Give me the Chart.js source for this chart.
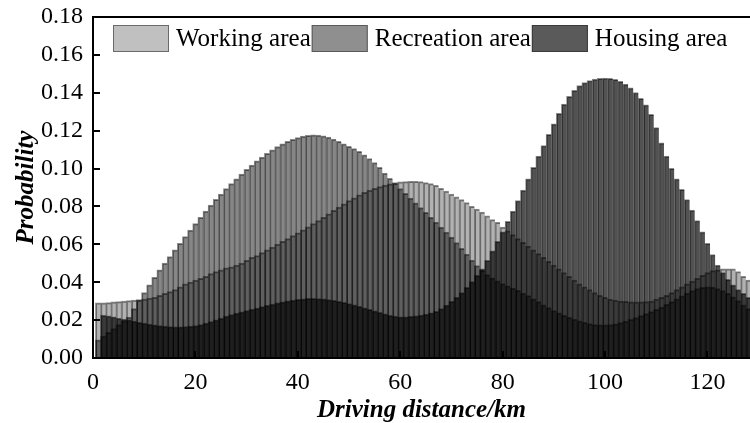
<!DOCTYPE html>
<html>
<head>
<meta charset="utf-8">
<script src="https://cdn.jsdelivr.net/npm/chart.js@4.4.1/dist/chart.umd.min.js"></script>
<style>
  html, body { margin: 0; padding: 0; background: #fff; }
  #c { display: block; }
</style>
</head>
<body>
<canvas id="c" width="750" height="423"></canvas>
<script>
// Bin centres (km), one bar per kilometre
const distanceKm = [
  1,2,3,4,5,6,7,8,9,10,11,12,13,14,15,16,17,18,19,20,
  21,22,23,24,25,26,27,28,29,30,31,32,33,34,35,36,37,38,39,40,
  41,42,43,44,45,46,47,48,49,50,51,52,53,54,55,56,57,58,59,60,
  61,62,63,64,65,66,67,68,69,70,71,72,73,74,75,76,77,78,79,80,
  81,82,83,84,85,86,87,88,89,90,91,92,93,94,95,96,97,98,99,100,
  101,102,103,104,105,106,107,108,109,110,111,112,113,114,115,116,117,118,119,120,
  121,122,123,124,125,126,127,128
];

const workingArea = [
  0.0290,0.0290,0.0292,0.0295,0.0297,0.0300,0.0302,0.0305,0.0308,0.0310,
  0.0315,0.0320,0.0330,0.0340,0.0350,0.0360,0.0375,0.0390,0.0400,0.0410,
  0.0420,0.0430,0.0445,0.0455,0.0465,0.0475,0.0480,0.0490,0.0500,0.0515,
  0.0530,0.0540,0.0555,0.0570,0.0585,0.0600,0.0615,0.0630,0.0645,0.0660,
  0.0676,0.0692,0.0708,0.0725,0.0742,0.0760,0.0778,0.0796,0.0813,0.0830,
  0.0845,0.0860,0.0873,0.0885,0.0895,0.0904,0.0912,0.0919,0.0925,0.0929,
  0.0931,0.0932,0.0932,0.0930,0.0925,0.0920,0.0910,0.0895,0.0880,0.0865,
  0.0850,0.0835,0.0820,0.0800,0.0785,0.0770,0.0750,0.0730,0.0715,0.0690,
  0.0670,0.0650,0.0630,0.0610,0.0590,0.0570,0.0550,0.0530,0.0510,0.0490,
  0.0470,0.0450,0.0430,0.0410,0.0390,0.0375,0.0360,0.0345,0.0330,0.0320,
  0.0310,0.0305,0.0300,0.0298,0.0296,0.0295,0.0295,0.0297,0.0300,0.0310,
  0.0320,0.0330,0.0345,0.0360,0.0375,0.0390,0.0405,0.0420,0.0435,0.0450,
  0.0460,0.0465,0.0470,0.0470,0.0470,0.0455,0.0430,0.0410
];

const recreationArea = [
  0.0095,0.0115,0.0135,0.0155,0.0175,0.0195,0.0215,0.0260,0.0305,0.0345,
  0.0385,0.0425,0.0465,0.0500,0.0535,0.0570,0.0605,0.0640,0.0674,0.0708,
  0.0741,0.0774,0.0806,0.0836,0.0865,0.0893,0.0920,0.0945,0.0970,0.0995,
  0.1018,0.1040,0.1060,0.1080,0.1098,0.1115,0.1130,0.1143,0.1154,0.1163,
  0.1170,0.1175,0.1177,0.1176,0.1172,0.1165,0.1155,0.1143,0.1129,0.1117,
  0.1105,0.1090,0.1072,0.1052,0.1030,0.1005,0.0975,0.0948,0.0921,0.0894,
  0.0868,0.0843,0.0818,0.0793,0.0768,0.0742,0.0716,0.0690,0.0664,0.0637,
  0.0608,0.0578,0.0547,0.0516,0.0487,0.0462,0.0440,0.0422,0.0406,0.0392,
  0.0380,0.0368,0.0356,0.0342,0.0328,0.0312,0.0297,0.0280,0.0265,0.0250,
  0.0237,0.0225,0.0214,0.0204,0.0195,0.0187,0.0181,0.0176,0.0174,0.0174,
  0.0176,0.0180,0.0186,0.0194,0.0203,0.0213,0.0223,0.0233,0.0244,0.0256,
  0.0268,0.0282,0.0297,0.0312,0.0327,0.0342,0.0355,0.0365,0.0372,0.0375,
  0.0373,0.0366,0.0355,0.0340,0.0322,0.0302,0.0280,0.0260
];

const housingArea = [
  null,  0.0226,0.0222,0.0216,0.0210,0.0205,0.0200,0.0194,0.0188,0.0183,
  0.0178,0.0174,0.0170,0.0167,0.0165,0.0164,0.0164,0.0165,0.0167,0.0170,
  0.0176,0.0183,0.0191,0.0200,0.0210,0.0220,0.0228,0.0236,0.0243,0.0250,
  0.0256,0.0263,0.0270,0.0277,0.0284,0.0290,0.0296,0.0301,0.0305,0.0309,
  0.0312,0.0314,0.0314,0.0313,0.0311,0.0308,0.0303,0.0298,0.0293,0.0287,
  0.0280,0.0272,0.0264,0.0256,0.0248,0.0240,0.0232,0.0225,0.0220,0.0217,
  0.0217,0.0219,0.0222,0.0226,0.0231,0.0237,0.0246,0.0260,0.0278,0.0298,
  0.0320,0.0345,0.0372,0.0402,0.0435,0.0470,0.0515,0.0565,0.0615,0.0665,
  0.0720,0.0775,0.0830,0.0885,0.0945,0.1005,0.1065,0.1120,0.1180,0.1235,
  0.1290,0.1340,0.1380,0.1412,0.1437,0.1453,0.1464,0.1471,0.1475,0.1477,
  0.1476,0.1470,0.1460,0.1445,0.1425,0.1400,0.1370,0.1335,0.1285,0.1215,
  0.1135,0.1065,0.1000,0.0945,0.0890,0.0835,0.0780,0.0725,0.0665,0.0605,
  0.0545,0.0490,0.0450,0.0415,0.0385,0.0360,0.0340,0.0320
];

const seriesNames = ['Working area', 'Recreation area', 'Housing area'];
const xTickValues = [0, 20, 40, 60, 80, 100, 120];
const yTickValues = [0, 0.02, 0.04, 0.06, 0.08, 0.10, 0.12, 0.14, 0.16, 0.18];

const SERIF = '"Liberation Serif", "Times New Roman", serif';

const points = arr => distanceKm.map((x, i) => ({ x: x, y: arr[i] }));

function barSeries(label, values, fill, edge, swatch, swatchEdge) {
  return {
    label: label,
    data: points(values),
    backgroundColor: fill,
    borderColor: edge,
    borderWidth: { left: 1, top: 1, right: 0, bottom: 0 },
    grouped: false,
    inflateAmount: 0.5,
    barPercentage: 1,
    categoryPercentage: 1,
    swatch: swatch,
    swatchEdge: swatchEdge
  };
}

// Frame line along the top, inward tick marks and the boxed legend
const framePlugin = {
  id: 'frame',
  afterDraw(chart) {
    const { ctx, chartArea, scales } = chart;
    const { left, right, top, bottom } = chartArea;
    ctx.save();
    ctx.strokeStyle = '#000';
    ctx.lineWidth = 2;
    ctx.beginPath();
    ctx.moveTo(left - 1, top);
    ctx.lineTo(right, top);
    ctx.stroke();

    ctx.beginPath();
    scales.y.ticks.forEach(t => {
      if (t.value === 0) return;
      const py = Math.round(scales.y.getPixelForValue(t.value));
      ctx.moveTo(left, py);
      ctx.lineTo(left + 7, py);
    });
    scales.x.ticks.forEach(t => {
      if (t.value === 0) return;
      const px = Math.round(scales.x.getPixelForValue(t.value));
      ctx.moveTo(px, bottom);
      ctx.lineTo(px, bottom - 7);
    });
    ctx.stroke();

    // legend row
    const boxW = 56, boxH = 27;
    let x = left + 20;
    const y = top + 8;
    ctx.font = '25px ' + SERIF;
    ctx.textBaseline = 'middle';
    ctx.textAlign = 'left';
    chart.data.datasets.forEach(ds => {
      ctx.fillStyle = ds.swatch;
      ctx.fillRect(x, y, boxW, boxH);
      ctx.strokeStyle = ds.swatchEdge;
      ctx.lineWidth = 1;
      ctx.strokeRect(x + 0.5, y + 0.5, boxW - 1, boxH - 1);
      ctx.fillStyle = '#000';
      const tx = x + boxW + 7;
      ctx.fillText(ds.label, tx, y + boxH / 2 + 1);
      x = tx + ctx.measureText(ds.label).width + 1;
    });
    ctx.restore();
  }
};

new Chart(document.getElementById('c'), {
  type: 'bar',
  data: {
    datasets: [
      barSeries(seriesNames[0], workingArea,    'rgba(0,0,0,0.30)', 'rgba(0,0,0,0.45)', '#c0c0c0', '#6a6a6a'),
      barSeries(seriesNames[1], recreationArea, 'rgba(0,0,0,0.47)', 'rgba(0,0,0,0.45)', '#8f8f8f', '#5a5a5a'),
      barSeries(seriesNames[2], housingArea,    'rgba(0,0,0,0.68)', 'rgba(0,0,0,0.45)', '#5a5a5a', '#3a3a3a')
    ]
  },
  options: {
    responsive: false,
    devicePixelRatio: 1,
    animation: false,
    events: [],
    layout: { padding: { top: 17, left: 0, right: 0, bottom: 0 } },
    plugins: {
      legend: { display: false },
      tooltip: { enabled: false }
    },
    scales: {
      x: {
        type: 'linear',
        min: 0,
        max: 128.3,
        offset: false,
        afterBuildTicks: s => { s.ticks = xTickValues.map(v => ({ value: v })); },
        afterFit: s => { s.height = 65; },
        ticks: {
          font: { family: SERIF, size: 24 },
          color: '#000',
          padding: 10,
          maxRotation: 0,
          autoSkip: false,
          callback: v => String(v)
        },
        grid: { display: true, drawOnChartArea: false, drawTicks: false, offset: false },
        border: { display: true, color: '#000', width: 2 },
        title: {
          display: true,
          text: 'Driving distance/km',
          color: '#000',
          font: { family: SERIF, size: 25, weight: 'bold', style: 'italic', lineHeight: 1.0 },
          padding: { top: 0, bottom: 0 }
        }
      },
      y: {
        min: 0,
        max: 0.18,
        afterBuildTicks: s => { s.ticks = yTickValues.map(v => ({ value: v })); },
        afterFit: s => { s.width = 93; s.paddingTop = 0; s.paddingBottom = 0; },
        ticks: {
          font: { family: SERIF, size: 24 },
          color: '#000',
          padding: 10,
          autoSkip: false,
          callback: v => Number(v).toFixed(2)
        },
        grid: { display: true, drawOnChartArea: false, drawTicks: false },
        border: { display: true, color: '#000', width: 2 },
        title: {
          display: true,
          text: 'Probability',
          color: '#000',
          font: { family: SERIF, size: 25, weight: 'bold', style: 'italic' },
          padding: { top: 12, bottom: 0 }
        }
      }
    }
  },
  plugins: [framePlugin]
});
</script>
</body>
</html>
